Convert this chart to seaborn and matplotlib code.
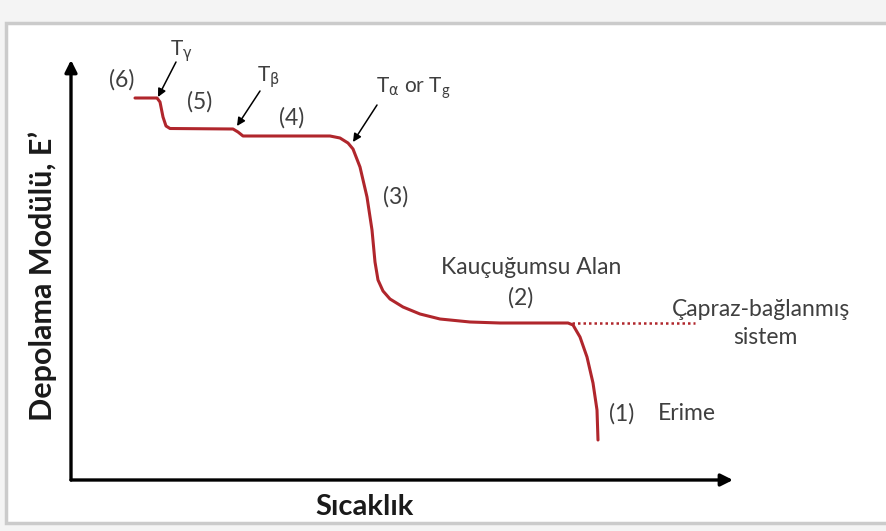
import matplotlib
matplotlib.use("Agg")
import matplotlib.pyplot as plt
import seaborn as sns
from matplotlib.patches import Rectangle

# ---------- data (arbitrary units) ----------
temperature = [64, 86, 89, 92, 95, 99, 162, 167, 172, 259, 269, 277, 282,
               289, 296, 301, 304, 307, 312, 319, 332, 349, 369, 399, 429,
               497, 502, 509, 516, 522, 526, 527]
modulus = [382, 382, 378, 363, 354, 351.5, 351, 348, 344, 344, 342, 337, 331,
           313, 283, 250, 218, 200, 189, 181, 173, 166, 161, 158, 157,
           157, 155, 143, 123, 97, 70, 40]
crosslinked_t = [501, 624]
crosslinked_m = [157, 157]

region_labels = ["(6)", "(5)", "(4)", "(3)", "Kauçuğumsu Alan", "(2)",
                 "Çapraz-bağlanmış", "sistem", "(1)", "Erime"]
transition_labels = [r"T$_{\mathrm{γ}}$", r"T$_{\mathrm{β}}$",
                     r"T$_{\mathrm{α}}$ or T$_\mathregular{g}$"]

# label placement (data units)
region_pos = [(51, 400), (129, 378), (221, 362), (325, 283), (460, 212),
              (450, 182), (690, 170), (694, 142), (551, 66), (616, 66)]
transition_pos = [(110, 429), (197, 403), (342, 392)]
arrow_tails = [(105, 418), (189, 389), (306, 375)]
arrow_heads = [(87, 383), (166, 354), (282, 338)]

W, H = 886, 531
sns.set_style("white")
plt.rcParams["font.family"] = ["Lato", "DejaVu Sans"]
plt.rcParams["mathtext.fontset"] = "dejavusans"

fig = plt.figure(figsize=(W / 100, H / 100), dpi=100)
fig.patch.set_facecolor("#f4f4f4")
fig.patches.append(Rectangle((6 / W, 1 - 523 / H), 1.2, (523 - 23) / H,
                             transform=fig.transFigure, facecolor="white",
                             edgecolor="#cbcbcb", lw=2.5, zorder=-5))

ax = fig.add_axes([71 / W, 1 - 480 / H, (733 - 71) / W, (480 - 60) / H])
ax.set_zorder(2)
ax.set_facecolor("none")
ax.set_xlim(0, 662)
ax.set_ylim(0, 420)
for s in ax.spines.values():
    s.set_visible(False)
ax.set_xticks([])
ax.set_yticks([])

# axis arrows
arrow_kw = dict(arrowstyle="-|>", color="black", lw=2.4, mutation_scale=18,
                shrinkA=0, shrinkB=0)
ax.annotate("", xy=(1, 0), xytext=(0, 0), xycoords="axes fraction",
            arrowprops=arrow_kw)
ax.annotate("", xy=(0, 1), xytext=(0, 0), xycoords="axes fraction",
            arrowprops=arrow_kw)

red = "#b0262c"
sns.lineplot(x=temperature, y=modulus, ax=ax, color=red, lw=2.2,
             estimator=None, sort=False)
sns.lineplot(x=crosslinked_t, y=crosslinked_m, ax=ax, color=red, lw=1.8,
             linestyle=(0, (1, 1.2)), estimator=None)

txt_color = "#3f3f3f"
for lab, (x, y) in zip(region_labels, region_pos):
    ax.text(x, y, lab, ha="center", va="center", fontsize=16.5,
            color=txt_color, clip_on=False)
for lab, (x, y) in zip(transition_labels, transition_pos):
    ax.text(x, y, lab, ha="center", va="center", fontsize=15,
            color=txt_color, clip_on=False)
for tail, head in zip(arrow_tails, arrow_heads):
    ax.annotate("", xy=head, xytext=tail,
                arrowprops=dict(arrowstyle="-|>", color="black", lw=1.1,
                                mutation_scale=12, shrinkA=0, shrinkB=0))

fig.text(365 / W, 1 - 507 / H, "Sıcaklık", ha="center", va="center",
         fontsize=21, fontweight="bold", color="#1a1a1a")
fig.text(43 / W, 1 - 276 / H, "Depolama Modülü, E’", ha="center",
         va="center", rotation=90, fontsize=22, fontweight="bold",
         color="#1a1a1a")

fig.savefig("out.png", dpi=100, facecolor=fig.get_facecolor())
